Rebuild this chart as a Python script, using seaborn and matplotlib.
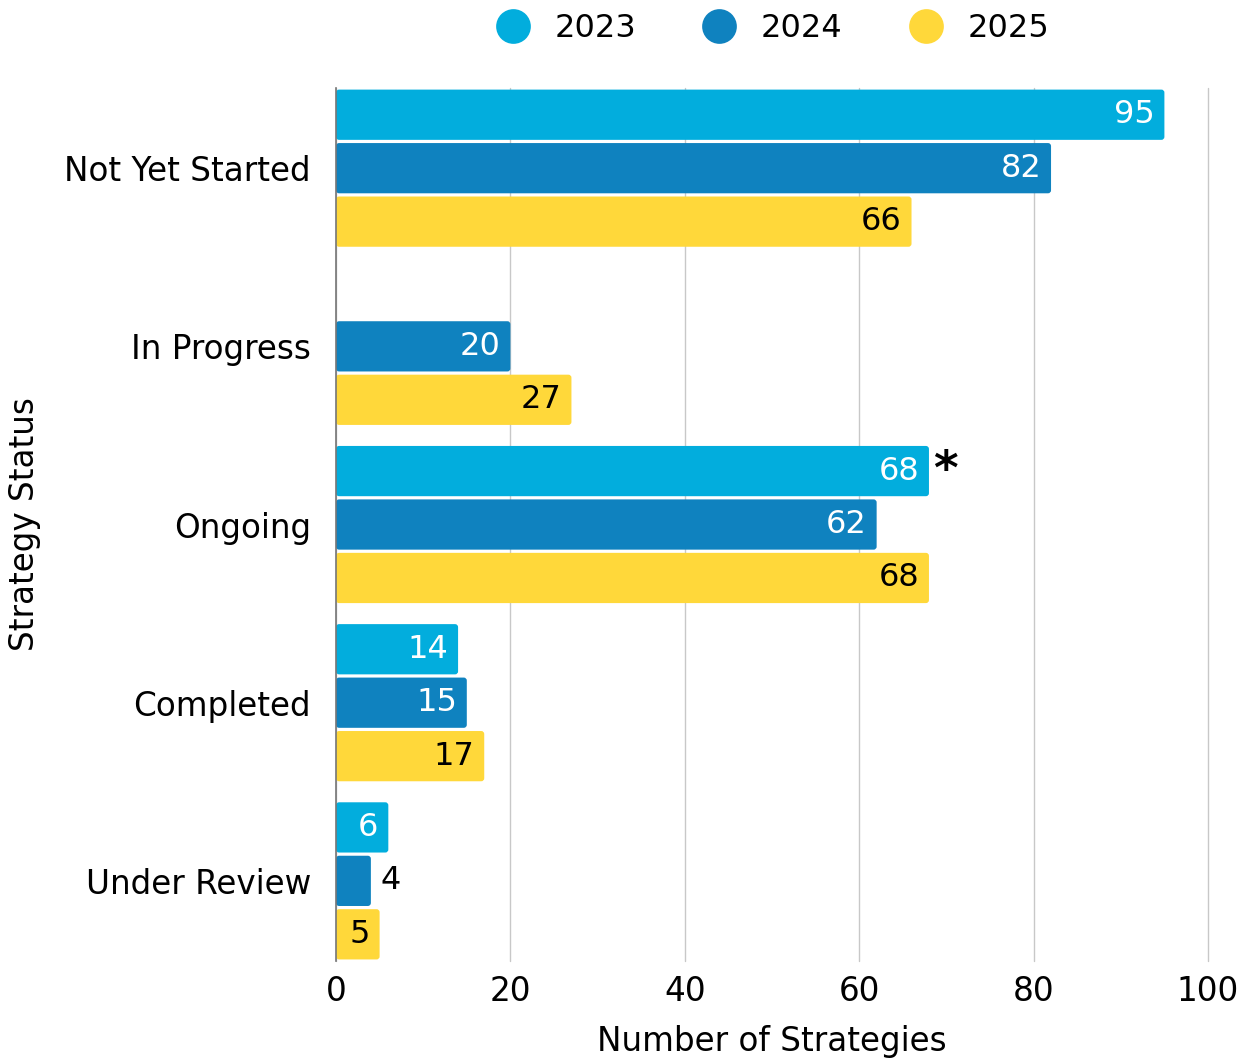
import numpy as np
import pandas as pd
import seaborn as sns
import matplotlib.pyplot as plt
from matplotlib.patches import FancyBboxPatch
from matplotlib.lines import Line2D

# dados
status = ['Not Yet Started', 'In Progress', 'Ongoing', 'Completed', 'Under Review']
anos = ['2023', '2024', '2025']
v2023 = [95, np.nan, 68, 14, 6]
v2024 = [82, 20, 62, 15, 4]
v2025 = [66, 27, 68, 17, 5]
cores = ['#02ADDD', '#0F82BF', '#FFD83A']
cor_texto = ['white', 'white', 'black']

df = pd.DataFrame({'status': status, '2023': v2023, '2024': v2024, '2025': v2025})
df_long = df.melt(id_vars='status', var_name='ano', value_name='qtd').dropna()

sns.set_style('white')
plt.rcParams['font.family'] = ['DejaVu Sans']
plt.rcParams['text.color'] = 'black'
plt.rcParams['axes.labelcolor'] = 'black'
plt.rcParams['xtick.color'] = 'black'
plt.rcParams['ytick.color'] = 'black'

FS = 23.5

fig = plt.figure(figsize=(12.5, 10.59), dpi=100)
ax = fig.add_axes([0.2688, 0.0925, 0.6976, 0.8244])

sns.barplot(
    data=df_long, x='qtd', y='status', hue='ano',
    order=status, hue_order=anos, palette=cores,
    orient='h', width=0.9, edgecolor='none', saturation=1,
    legend=False, ax=ax
)

ax.set_xlim(0, 100)
ax.set_ylim(4.45, -0.45)

# cantos arredondados + pequeno espaco entre barras
for i, cont in enumerate(ax.containers):
    for barra, val in zip(cont.patches, cont.datavalues):
        x0, y0 = barra.get_x(), barra.get_y()
        w, h = barra.get_width(), barra.get_height()
        barra.set_visible(False)
        gap = 0.009
        nova = FancyBboxPatch(
            (x0, y0 + gap), w, h - 2 * gap,
            boxstyle='round,pad=0,rounding_size=0.35',
            mutation_aspect=0.049,
            facecolor=cores[i], edgecolor='none', zorder=3
        )
        ax.add_patch(nova)
        yc = y0 + h / 2
        if val >= 5:
            ax.annotate(f'{val:.0f}', (val, yc), xytext=(-7, 0), textcoords='offset points',
                        ha='right', va='center', fontsize=FS - 0.5, color=cor_texto[i], zorder=4)
        else:
            ax.annotate(f'{val:.0f}', (val, yc), xytext=(7, 0), textcoords='offset points',
                        ha='left', va='center', fontsize=FS - 0.5, color='black', zorder=4)
        if i == 0 and status[int(round(yc + 0.3))] == 'Ongoing':
            ax.annotate('*', (val, yc), xytext=(3, 0), textcoords='offset points',
                        ha='left', va='center', fontsize=34, fontweight='bold',
                        color='black', zorder=4)

ax.set_xticks([0, 20, 40, 60, 80, 100])
ax.grid(axis='x', color='#c8c8c8', linewidth=1, zorder=0)
for gl in ax.get_xgridlines():
    gl.set_clip_on(False)
ax.grid(axis='y', visible=False)
ax.set_axisbelow(True)
for lado in ['top', 'right', 'bottom']:
    ax.spines[lado].set_visible(False)
ax.spines['left'].set_color('#777777')
ax.spines['left'].set_linewidth(1.2)
ax.spines['left'].set_zorder(5)

ax.tick_params(axis='y', length=0, pad=18, labelsize=FS)
ax.tick_params(axis='x', length=0, pad=10, labelsize=FS)
ax.set_xlabel('Number of Strategies', fontsize=FS, labelpad=12)
ax.set_ylabel('Strategy Status', fontsize=FS)
ax.yaxis.set_label_coords(-0.338, 0.5)

handles = [Line2D([0], [0], marker='o', linestyle='none', markersize=25,
                  markerfacecolor=c, markeredgecolor='none') for c in cores]
fig.legend(handles, anos, loc='upper center', bbox_to_anchor=(0.612, 1.015),
           ncol=3, frameon=False, fontsize=FS - 0.5, handletextpad=0.3,
           columnspacing=1.6)

plt.savefig('out.png', dpi=100)
